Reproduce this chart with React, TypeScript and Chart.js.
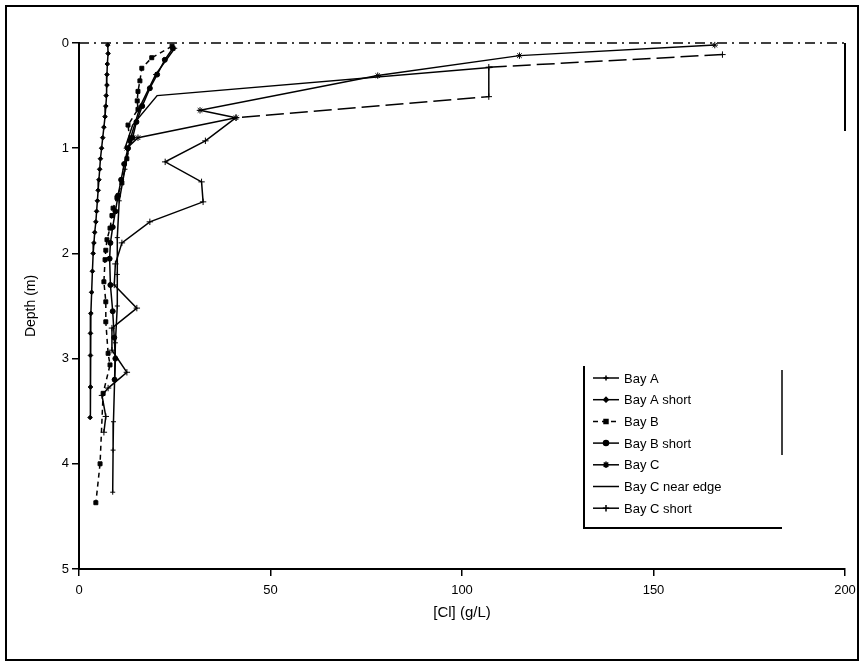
import React, { useEffect, useRef } from "react";
import { Chart, registerables } from "chart.js";
import { drawPoint } from "chart.js/helpers";

Chart.register(...registerables);

// ---- Data (concentration in g/L, depth in m) ----
const seriesLabels = ["Bay A", "Bay A short", "Bay B", "Bay B short", "Bay C", "Bay C near edge", "Bay C short"];

const bayADepth = [0.05, 0.3, 0.6, 0.9, 1.2, 1.5, 1.85, 2.2, 2.5, 2.85, 3.2, 3.6, 3.87, 4.27];
const bayAConc = [25, 20, 16, 13.5, 12, 10.5, 10, 10, 10, 9.5, 9.3, 9.0, 8.9, 8.8];

const bayAShortDepth = [0.02, 0.1, 0.2, 0.3, 0.4, 0.5, 0.6, 0.7, 0.8, 0.9, 1.0, 1.1, 1.2, 1.3, 1.4, 1.5, 1.6, 1.7, 1.8, 1.9, 2.0, 2.17, 2.37, 2.57, 2.76, 2.97, 3.27, 3.56];
const bayAShortConc = [7.5, 7.6, 7.4, 7.3, 7.3, 7.1, 7.0, 6.8, 6.5, 6.2, 5.9, 5.6, 5.4, 5.2, 5.0, 4.8, 4.6, 4.4, 4.1, 3.9, 3.7, 3.5, 3.3, 3.1, 3.0, 3.0, 3.0, 2.9];

const bayBDepth = [0.03, 0.14, 0.24, 0.36, 0.46, 0.55, 0.63, 0.78, 0.93, 1.1, 1.33, 1.47, 1.57, 1.64, 1.76, 1.87, 1.97, 2.06, 2.27, 2.46, 2.65, 2.95, 3.06, 3.33, 4.0, 4.37];
const bayBConc = [24.3, 19, 16.4, 15.9, 15.4, 15.2, 15.4, 12.8, 13.3, 12.5, 11.2, 9.9, 8.9, 8.6, 8.1, 7.3, 7.0, 6.8, 6.5, 7.0, 7.0, 7.6, 8.1, 6.3, 5.5, 4.4];

const bayBShortDepth = [0.05, 0.16, 0.3, 0.43, 0.6, 0.75, 0.9, 1.0, 1.15, 1.3, 1.45, 1.6, 1.75, 1.9, 2.05, 2.3, 2.55, 2.8, 3.0, 3.2];
const bayBShortConc = [24.5, 22.4, 20.4, 18.5, 16.5, 15, 14, 12.8, 11.8, 11, 10.2, 9.5, 8.8, 8.2, 8.0, 8.2, 8.8, 9.2, 9.5, 9.3];

const bayCDepth = [0.02, 0.12, 0.31, 0.64, 0.71, 0.9, 1.0];
const bayCConc = [166, 115, 78, 31.6, 41, 15.4, 12.5];

const bayCEdgeDepth = [0.23, 0.5, 0.78, 1.0];
const bayCEdgeConc = [108, 20.4, 14, 12];

const bayCShortDepth = [0.11, 0.23, 0.51, 0.71, 0.93, 1.13, 1.32, 1.51, 1.7, 1.9, 2.1, 2.3, 2.52, 2.71, 2.92, 3.13, 3.28, 3.35, 3.55, 3.7];
const bayCShortConc = [168, 107, 107, 41, 33, 22.5, 32, 32.4, 18.5, 11.2, 9.5, 9.2, 15.1, 8.6, 8.6, 12.5, 7.6, 6.0, 7.0, 6.5];

const xTicks = [0, 50, 100, 150, 200];
const yTicks = [0, 1, 2, 3, 4, 5];
const xTitle = "[Cl] (g/L)";
const yTitle = "Depth (m)";

const FONT = "'Liberation Sans', Arial, sans-serif";

function pts(conc: number[], depth: number[]) {
  return conc.map((c, i) => ({ x: c, y: depth[i] }));
}

const frameAndLegend = {
  id: "frameAndLegend",
  afterDraw(chart: any) {
    const ctx = chart.ctx;
    const ca = chart.chartArea;
    ctx.save();
    ctx.strokeStyle = "#000";
    ctx.fillStyle = "#000";
    // outer frame
    ctx.lineWidth = 2;
    ctx.setLineDash([]);
    ctx.strokeRect(6, 6, 852, 654);
    // plot area top border (dash-dot) and right border
    ctx.lineWidth = 1.5;
    ctx.setLineDash([10, 5, 2, 5]);
    ctx.beginPath();
    ctx.moveTo(ca.left, ca.top);
    ctx.lineTo(ca.right, ca.top);
    ctx.stroke();
    ctx.setLineDash([]);
    ctx.lineWidth = 2;
    ctx.beginPath();
    ctx.moveTo(ca.right, ca.top);
    ctx.lineTo(ca.right, ca.top + 88);
    ctx.stroke();
    // legend box
    ctx.lineWidth = 2;
    ctx.beginPath();
    ctx.moveTo(584, 366);
    ctx.lineTo(584, 528);
    ctx.lineTo(782, 528);
    ctx.stroke();
    ctx.lineWidth = 1.5;
    ctx.beginPath();
    ctx.moveTo(782, 370);
    ctx.lineTo(782, 455);
    ctx.stroke();
    ctx.font = "13px " + FONT;
    ctx.textBaseline = "middle";
    ctx.textAlign = "left";
    chart.data.datasets.forEach((ds: any, i: number) => {
      const y = 378 + i * 21.7;
      ctx.lineWidth = 1.5;
      ctx.setLineDash(ds.borderDash || []);
      ctx.beginPath();
      ctx.moveTo(593, y);
      ctx.lineTo(619, y);
      ctx.stroke();
      ctx.setLineDash([]);
      if (ds.pointRadius > 0) {
        drawPoint(ctx, { pointStyle: ds.pointStyle, radius: ds.pointRadius, rotation: 0, borderWidth: 1 }, 606, y);
      }
      ctx.fillText(ds.label, 624, y + 1);
    });
    ctx.restore();
  },
};

export default function App() {
  const ref = useRef<HTMLCanvasElement | null>(null);
  useEffect(() => {
    if (!ref.current) return;
    const common = {
      borderColor: "#000",
      backgroundColor: "#000",
      pointBorderColor: "#000",
      pointBackgroundColor: "#000",
      borderWidth: 1.5,
      showLine: true,
      clip: false as any,
      pointBorderWidth: 1,
    };
    const datasets: any[] = [
      { ...common, label: seriesLabels[0], data: pts(bayAConc, bayADepth), pointStyle: "cross", pointRadius: 2.5 },
      { ...common, label: seriesLabels[1], data: pts(bayAShortConc, bayAShortDepth), pointStyle: "rectRot", pointRadius: 2.3 },
      { ...common, label: seriesLabels[2], data: pts(bayBConc, bayBDepth), pointStyle: "rect", pointRadius: 2.8, borderDash: [5, 4] },
      { ...common, label: seriesLabels[3], data: pts(bayBShortConc, bayBShortDepth), pointStyle: "circle", pointRadius: 2.5 },
      { ...common, label: seriesLabels[4], data: pts(bayCConc, bayCDepth), pointStyle: "star", pointRadius: 3.2 },
      { ...common, label: seriesLabels[5], data: pts(bayCEdgeConc, bayCEdgeDepth), pointStyle: "line", pointRadius: 0 },
      {
        ...common,
        label: seriesLabels[6],
        data: pts(bayCShortConc, bayCShortDepth),
        pointStyle: "cross",
        pointRadius: 3.2,
        segment: { borderDash: (c: any) => (c.p1DataIndex <= 3 ? [18, 6] : undefined) },
      },
    ];
    const chart = new Chart(ref.current, {
      type: "scatter",
      data: { datasets },
      plugins: [frameAndLegend],
      options: {
        responsive: false,
        devicePixelRatio: 1,
        animation: false,
        layout: { padding: { left: 0, top: 43, right: 19, bottom: 44 } },
        plugins: { legend: { display: false }, tooltip: { enabled: false } },
        scales: {
          x: {
            type: "linear",
            min: 0,
            max: 200,
            afterBuildTicks: (s: any) => { s.ticks = xTicks.map((v) => ({ value: v })); },
            afterFit: (s: any) => { s.height = 53; },
            grid: { display: true, drawOnChartArea: false, drawTicks: true, tickLength: 7, color: "#000", lineWidth: 1.5 },
            border: { display: true, color: "#000", width: 2 },
            ticks: { color: "#000", font: { family: FONT, size: 13 }, padding: 7 },
            title: { display: true, text: xTitle, color: "#000", font: { family: FONT, size: 15 }, padding: { top: 0, bottom: 0 } },
          },
          y: {
            type: "linear",
            reverse: true,
            min: 0,
            max: 5,
            afterBuildTicks: (s: any) => { s.ticks = yTicks.map((v) => ({ value: v })); },
            afterFit: (s: any) => { s.width = 79; },
            grid: { display: true, drawOnChartArea: false, drawTicks: true, tickLength: 7, color: "#000", lineWidth: 1.5 },
            border: { display: true, color: "#000", width: 2 },
            ticks: { color: "#000", font: { family: FONT, size: 13 }, padding: 3 },
            title: { display: true, text: yTitle, color: "#000", font: { family: FONT, size: 14 }, padding: { top: 23, bottom: 0 } },
          },
        },
      } as any,
    });
    return () => chart.destroy();
  }, []);
  return (
    <div style={{ position: "absolute", left: 0, top: 0, width: 864, height: 666, background: "#fff" }}>
      <canvas ref={ref} width={864} height={666} style={{ display: "block" }} />
    </div>
  );
}
